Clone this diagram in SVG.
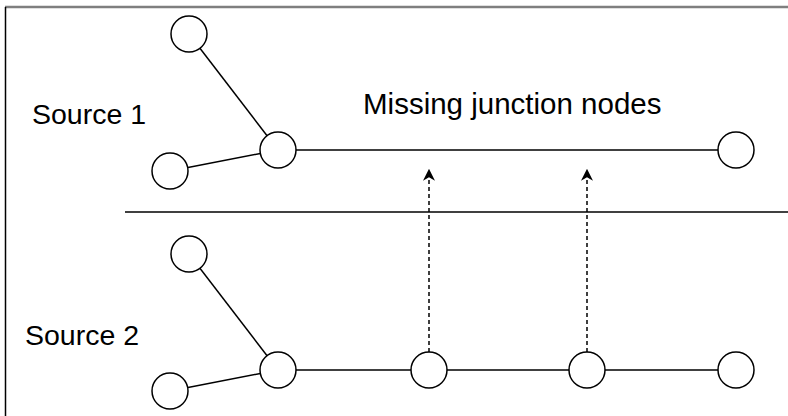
<svg xmlns="http://www.w3.org/2000/svg" width="788" height="416" viewBox="0 0 788 416">
  <defs>
    <style>
      .node { fill: #ffffff; stroke: #000000; stroke-width: 1.5; }
      .edge { stroke: #000000; stroke-width: 1.5; fill: none; }
      .link { stroke: #000000; stroke-width: 1.5; fill: none; stroke-dasharray: 4 3; }
      .label { font-family: "Liberation Sans", Arial, sans-serif; font-size: 28.5px; fill: #000000; }
      .title { font-size: 29.5px; }
    </style>
    <marker id="arrow" viewBox="0 0 10 10" refX="9" refY="5" markerWidth="12" markerHeight="12" markerUnits="userSpaceOnUse" orient="auto">
      <path d="M0,0 L10,5 L0,10 L3,5 Z" fill="#000000"/>
    </marker>
  </defs>

  <rect width="788" height="416" fill="#ffffff"/>

  <!-- frame edges -->
  <line x1="5" y1="7" x2="788" y2="7" stroke="#7f7f7f" stroke-width="2.5"/>
  <line x1="5.5" y1="7" x2="5.5" y2="416" stroke="#000000" stroke-width="1.5"/>

  <!-- divider between sources -->
  <line x1="125" y1="212" x2="788" y2="212" stroke="#000000" stroke-width="1.5"/>

  <text class="label" x="32" y="124">Source 1</text>
  <text class="label" x="25" y="345">Source 2</text>
  <text class="label title" x="363" y="114">Missing junction nodes</text>

  <g id="connectors">
    <!-- source 1 -->
    <line class="edge" x1="189" y1="34" x2="278" y2="150"/>
    <line class="edge" x1="170" y1="171" x2="278" y2="150"/>
    <line class="edge" x1="278" y1="150" x2="736" y2="150"/>
    <!-- source 2 -->
    <line class="edge" x1="189" y1="254" x2="278" y2="370"/>
    <line class="edge" x1="170" y1="391" x2="278" y2="370"/>
    <line class="edge" x1="278" y1="370" x2="736" y2="370"/>
    <!-- junction mapping -->
    <line class="link" x1="429" y1="352" x2="429" y2="170" marker-end="url(#arrow)"/>
    <line class="link" x1="587" y1="352" x2="587" y2="170" marker-end="url(#arrow)"/>
  </g>

  <g id="s1-leaf-top"><circle class="node" cx="189" cy="34" r="18"/></g>
  <g id="s1-leaf-bottom"><circle class="node" cx="170" cy="171" r="18"/></g>
  <g id="s1-hub"><circle class="node" cx="278" cy="150" r="18"/></g>
  <g id="s1-end"><circle class="node" cx="736" cy="150" r="18"/></g>

  <g id="s2-leaf-top"><circle class="node" cx="189" cy="254" r="18"/></g>
  <g id="s2-leaf-bottom"><circle class="node" cx="170" cy="391" r="18"/></g>
  <g id="s2-hub"><circle class="node" cx="278" cy="370" r="18"/></g>
  <g id="s2-junction-a"><circle class="node" cx="429" cy="370" r="18"/></g>
  <g id="s2-junction-b"><circle class="node" cx="587" cy="370" r="18"/></g>
  <g id="s2-end"><circle class="node" cx="736" cy="370" r="18"/></g>
</svg>
